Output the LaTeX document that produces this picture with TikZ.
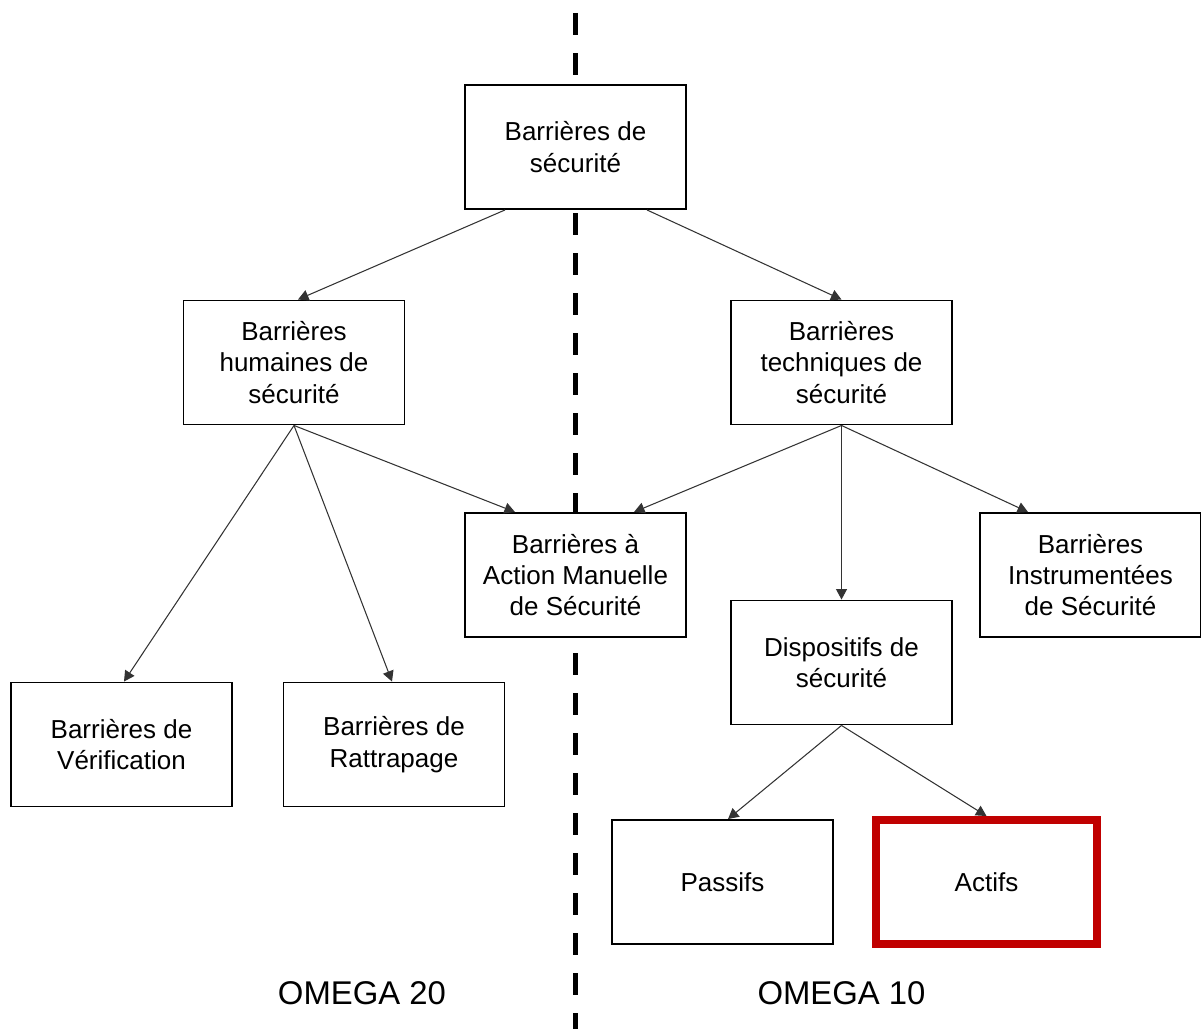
\documentclass[tikz,border=0pt]{standalone}
\usepackage{fontspec}
\setmainfont{Liberation Sans}
\usepackage{tikz}
\usetikzlibrary{arrows.meta,shapes,calc}
\usetikzlibrary{positioning}
\definecolor{darkred}{HTML}{C00000}
\tikzstyle{arrow}=[draw,-{Triangle[length=0.21cm,width=0.22cm]},line width=0.6pt,black!80]
\tikzstyle{block} =
  [rectangle, draw, fill=white, line width=1.1pt, align=center,
   font=\fontsize{14.8}{17.9}\selectfont,
   minimum width=4.42cm, text centered, minimum height=2.48cm]
\tikzstyle{redblock} = [block, draw=darkred, line width=4.5pt]
\tikzstyle{divider} = [line width=0.1cm, dash pattern=on 0.44cm off 0.36cm]
\tikzstyle{omega} = [font=\fontsize{18.7}{22}\selectfont]

\begin{document}
\begin{tikzpicture}
  \useasboundingbox (0,0) rectangle (24.02,-20.58);

  % separation line
  \coordinate (sepa) at (11.51,-0.26);
  \coordinate (sepb) at (11.51,-20.58);
  \draw [divider] (sepa) -- (sepb);

  \node [block] (top) at (11.51,-2.94) {Barrières de\\sécurité};
  \node [block, below of=top, node distance=4.31cm, xshift=-5.63cm] (hum)
    {Barrières\\humaines de\\sécurité};
  \node [block, below of=top, node distance=4.31cm, xshift=5.32cm] (tech)
    {Barrières\\techniques de\\sécurité};
  \node [block, below of=top, node distance=8.56cm] (manu)
    {Barrières à\\Action Manuelle\\de Sécurité};
  \node [block, right of=manu, node distance=10.3cm] (instr)
    {Barrières\\Instrumentées\\de Sécurité};
  \node [block, below of=tech, node distance=6cm] (disp)
    {Dispositifs de\\sécurité};
  \node [block, below of=hum, node distance=7.64cm, xshift=-3.45cm] (verif)
    {Barrières de\\Vérification};
  \node [block, right of=verif, node distance=5.45cm] (ratt)
    {Barrières de\\Rattrapage};
  \node [block, below of=disp, node distance=4.39cm, xshift=-2.38cm] (passif)
    {Passifs};
  \node [redblock, right of=passif, node distance=5.28cm] (actif) {Actifs};

  \node [omega] (o20) at (7.24,-19.86) {OMEGA 20};
  \node [omega] (o10) at (16.83,-19.86) {OMEGA 10};

  \draw [arrow] ([xshift=-1.41cm]top.south) to ([xshift=0.08cm]hum.north);
  \draw [arrow] ([xshift=1.43cm]top.south) to (tech.north);
  \draw [arrow] (hum.south) to ([xshift=0.05cm]verif.north);
  \draw [arrow] (hum.south) to ([xshift=-0.04cm]ratt.north);
  \draw [arrow] (hum.south) to ([xshift=-1.21cm]manu.north);
  \draw [arrow] (tech.south) to ([xshift=1.17cm]manu.north);
  \draw [arrow] (tech.south) to (disp.north);
  \draw [arrow] (tech.south) to ([xshift=-1.25cm]instr.north);
  \draw [arrow] (disp.south) to ([xshift=0.11cm]passif.north);
  \draw [arrow] (disp.south) to (actif.north);
\end{tikzpicture}
\end{document}
